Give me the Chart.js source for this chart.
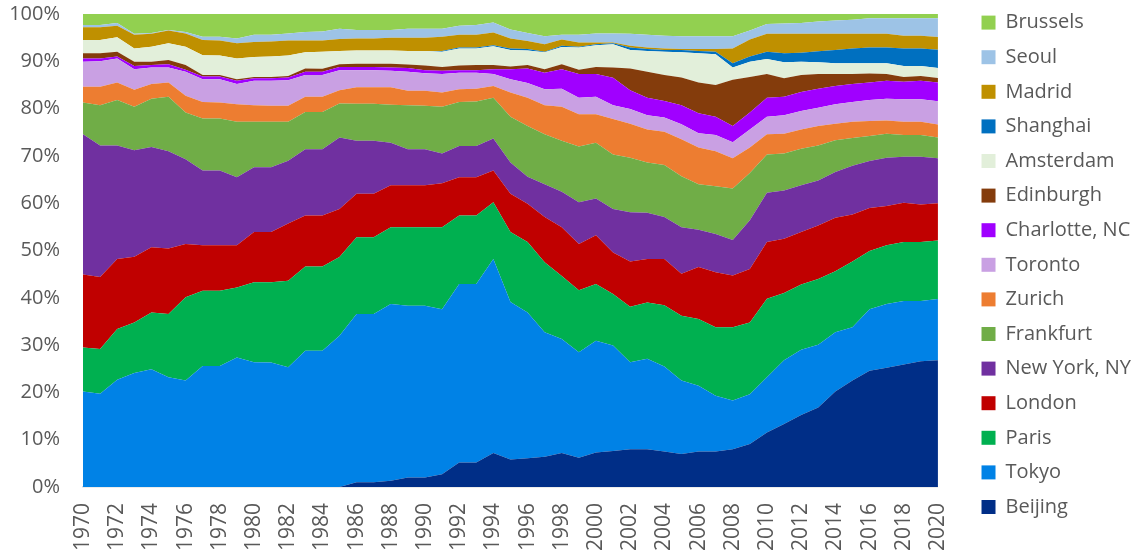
<!DOCTYPE html>
<html>
<head>
<meta charset="utf-8">
<title>City share 1970-2020</title>
<script src="https://cdn.jsdelivr.net/npm/chart.js@4.4.1/dist/chart.umd.min.js"></script>
<style>
  html, body { margin: 0; padding: 0; background: #ffffff; }
  #wrap { width: 1142px; height: 554px; }
</style>
</head>
<body>
<div id="wrap"><canvas id="cityChart" width="1142" height="554"></canvas></div>
<script>
// years on the x axis
const years = [
  "1970", "1971", "1972", "1973", "1974", "1975", "1976", "1977", "1978", "1979",
  "1980", "1981", "1982", "1983", "1984", "1985", "1986", "1987", "1988", "1989",
  "1990", "1991", "1992", "1993", "1994", "1995", "1996", "1997", "1998", "1999",
  "2000", "2001", "2002", "2003", "2004", "2005", "2006", "2007", "2008", "2009",
  "2010", "2011", "2012", "2013", "2014", "2015", "2016", "2017", "2018", "2019",
  "2020"
];

// share of each city per year (%)
const beijing = [
  0, 0, 0, 0, 0, 0, 0, 0, 0, 0,
  0, 0, 0, 0, 0, 0, 1.0, 1.0, 1.3, 2.0,
  2.0, 2.7, 5.2, 5.2, 7.2, 5.8, 6.1, 6.4, 7.2, 6.2,
  7.3, 7.6, 8.0, 8.0, 7.5, 7.0, 7.5, 7.5, 8.0, 9.1,
  11.5, 13.3, 15.2, 16.8, 20.2, 22.5, 24.6, 25.2, 25.9, 26.6,
  27.0
];
const tokyo = [
  20.2, 19.7, 22.7, 24.1, 24.9, 23.2, 22.5, 25.6, 25.6, 27.4,
  26.4, 26.3, 25.3, 28.8, 28.8, 32.0, 35.6, 35.6, 37.4, 36.3,
  36.3, 34.9, 37.7, 37.7, 41.0, 33.3, 30.8, 26.3, 24.1, 22.3,
  23.6, 22.3, 18.4, 19.1, 18.0, 15.5, 13.9, 11.8, 10.3, 10.5,
  11.7, 13.5, 13.8, 13.3, 12.5, 11.3, 13.0, 13.5, 13.4, 12.7,
  13.0
];
const paris = [
  9.3, 9.5, 10.7, 10.7, 12.0, 13.4, 17.6, 15.9, 15.9, 14.8,
  16.9, 17.0, 18.3, 17.8, 17.8, 16.6, 16.2, 16.2, 16.2, 16.6,
  16.6, 17.3, 14.5, 14.5, 12.0, 14.8, 14.9, 14.8, 13.3, 13.1,
  12.0, 10.9, 11.7, 11.9, 12.9, 13.7, 14.1, 14.5, 15.5, 15.2,
  16.6, 14.2, 13.8, 13.9, 12.9, 13.9, 12.3, 12.4, 12.5, 12.5,
  12.5
];
const london = [
  15.4, 15.2, 14.8, 13.9, 13.8, 13.8, 11.3, 9.6, 9.6, 8.9,
  10.6, 10.6, 12.1, 10.8, 10.8, 10.2, 9.2, 9.2, 8.9, 8.9,
  8.9, 9.3, 8.1, 8.1, 6.7, 8.1, 8.1, 9.6, 10.3, 9.8,
  10.3, 8.8, 9.6, 9.2, 9.8, 8.9, 11.0, 11.6, 10.9, 11.3,
  12.0, 11.5, 11.1, 11.3, 11.3, 9.9, 9.1, 8.3, 8.3, 7.9,
  7.9
];
const newYork = [
  29.7, 27.8, 24.0, 22.5, 21.2, 20.6, 17.9, 15.8, 15.8, 14.4,
  13.7, 13.7, 13.3, 14.0, 14.0, 15.1, 11.2, 11.2, 9.0, 7.6,
  7.6, 6.3, 6.6, 6.6, 6.8, 6.6, 5.7, 6.9, 7.5, 8.8,
  7.8, 9.2, 10.4, 9.8, 8.9, 9.8, 7.9, 8.1, 7.5, 10.3,
  10.4, 10.2, 9.9, 9.5, 9.7, 10.3, 9.9, 10.2, 9.7, 10.1,
  9.6
];
const frankfurt = [
  6.7, 8.5, 9.6, 9.2, 10.2, 11.5, 9.9, 11.0, 11.0, 11.7,
  9.6, 9.6, 8.2, 7.9, 7.9, 7.2, 7.8, 7.8, 8.0, 9.3,
  9.2, 9.9, 9.3, 9.4, 8.6, 9.7, 10.7, 10.6, 10.8, 11.8,
  11.8, 11.5, 11.5, 10.6, 11.0, 10.8, 9.6, 10.1, 10.9, 10.0,
  8.1, 7.8, 7.7, 7.4, 6.7, 5.9, 5.3, 5.1, 4.6, 4.6,
  4.4
];
const zurich = [
  3.3, 3.9, 3.7, 3.6, 3.1, 3.0, 3.5, 3.5, 3.4, 3.7,
  3.5, 3.4, 3.4, 3.2, 3.2, 2.8, 3.5, 3.5, 3.7, 3.1,
  3.2, 3.0, 2.7, 2.7, 2.5, 5.1, 6.0, 6.1, 7.2, 6.8,
  6.0, 7.5, 7.2, 7.0, 7.0, 7.8, 7.8, 7.4, 6.4, 5.4,
  4.3, 4.2, 4.1, 4.1, 3.5, 3.4, 3.2, 2.8, 2.8, 2.8,
  2.8
];
const toronto = [
  5.3, 5.4, 5.1, 4.3, 3.5, 3.2, 5.1, 4.8, 4.9, 4.3,
  5.2, 5.3, 5.4, 4.6, 4.6, 4.2, 3.6, 3.6, 3.5, 4.0,
  3.7, 3.9, 3.5, 3.4, 2.5, 2.8, 3.1, 3.4, 3.8, 3.5,
  3.7, 2.9, 3.1, 3.0, 3.0, 3.2, 3.0, 3.4, 3.4, 3.8,
  3.7, 3.9, 3.9, 3.9, 4.1, 4.2, 4.4, 4.6, 4.8, 4.8,
  4.9
];
const charlotte = [
  0.7, 0.6, 0.4, 0.7, 0.5, 0.7, 0.4, 0.6, 0.6, 0.7,
  0.5, 0.5, 0.6, 0.7, 0.7, 0.7, 0.7, 0.7, 0.7, 0.8,
  0.6, 0.7, 0.5, 0.5, 1.0, 2.1, 3.1, 3.5, 4.1, 5.0,
  4.8, 5.8, 4.0, 3.7, 3.5, 4.0, 4.2, 3.9, 3.4, 3.6,
  4.0, 3.9, 4.0, 4.0, 3.9, 3.8, 3.7, 3.8, 3.7, 3.9,
  4.0
];
const edinburgh = [
  1.1, 1.1, 1.0, 0.9, 0.7, 0.9, 1.0, 0.3, 0.3, 0.3,
  0.3, 0.3, 0.3, 0.7, 0.6, 0.6, 0.7, 0.7, 0.8, 0.7,
  1.0, 0.8, 1.0, 1.1, 0.9, 0.6, 0.7, 0.7, 1.1, 0.9,
  1.5, 2.2, 4.6, 5.5, 5.5, 5.9, 6.5, 6.7, 9.8, 7.5,
  5.0, 3.9, 3.6, 3.1, 2.5, 2.1, 1.9, 1.4, 1.0, 1.0,
  1.0
];
const amsterdam = [
  2.8, 2.8, 3.1, 2.8, 3.2, 3.5, 3.9, 4.2, 4.1, 4.4,
  4.2, 4.3, 4.3, 3.4, 3.6, 2.8, 2.8, 2.8, 2.8, 2.9,
  3.1, 3.2, 3.6, 3.5, 4.0, 3.5, 3.1, 3.6, 3.6, 4.7,
  4.6, 4.9, 3.9, 4.4, 4.9, 5.3, 6.2, 6.5, 2.6, 3.2,
  3.2, 3.4, 2.8, 2.5, 2.3, 2.3, 2.2, 2.3, 2.3, 2.1,
  2.1
];
const shanghai = [
  0, 0, 0, 0, 0, 0, 0, 0, 0, 0,
  0, 0, 0, 0, 0, 0, 0, 0, 0, 0,
  0, 0.2, 0.2, 0.2, 0.2, 0.3, 0.3, 0.1, 0.3, 0.2,
  0.2, 0.2, 0.5, 0.4, 0.4, 0.5, 0.5, 0.5, 0.9, 1.1,
  1.5, 1.9, 1.9, 2.3, 2.8, 3.1, 3.3, 3.3, 3.7, 3.7,
  3.9
];
const madrid = [
  2.7, 2.7, 2.4, 2.9, 2.7, 2.7, 2.8, 3.2, 3.2, 3.2,
  3.2, 3.2, 3.2, 2.5, 2.4, 2.5, 2.5, 2.5, 2.7, 2.8,
  2.8, 3.0, 2.7, 2.7, 2.7, 2.1, 1.7, 1.6, 1.3, 0.9,
  0.4, 0.2, 0.4, 0.3, 0.3, 0.2, 0.4, 0.6, 3.1, 3.6,
  3.8, 4.1, 4.0, 3.7, 3.4, 3.1, 2.9, 2.9, 2.7, 2.7,
  2.7
];
const seoul = [
  0.5, 0.5, 0.6, 0.2, 0.2, 0.1, 0.3, 0.7, 0.8, 1.0,
  1.5, 1.4, 1.5, 1.8, 1.9, 2.2, 1.8, 1.8, 1.6, 1.9,
  1.9, 1.7, 1.9, 2.1, 2.1, 1.9, 1.7, 1.7, 1.0, 1.6,
  1.9, 1.9, 2.5, 2.7, 2.7, 2.7, 2.7, 2.7, 2.6, 1.9,
  2.1, 2.2, 2.3, 2.6, 2.8, 3.0, 3.3, 3.3, 3.7, 3.7,
  4.0
];
const brussels = [
  2.3, 2.3, 1.9, 4.2, 4.0, 3.4, 3.8, 4.8, 4.8, 5.2,
  4.4, 4.4, 4.1, 3.8, 3.7, 3.1, 3.4, 3.4, 3.4, 3.1,
  3.1, 3.1, 2.5, 2.3, 1.8, 3.3, 4.0, 4.7, 4.4, 4.4,
  4.1, 4.1, 4.2, 4.4, 4.6, 4.7, 4.7, 4.7, 4.7, 3.5,
  2.1, 2.0, 1.9, 1.6, 1.4, 1.2, 0.9, 0.9, 0.9, 0.9,
  0.9
];

// 積み上げの下から順に（凡例は逆順で表示）
const series = [
  { label: "Beijing", data: beijing, color: "#002E87" },
  { label: "Tokyo", data: tokyo, color: "#0082E6" },
  { label: "Paris", data: paris, color: "#00B050" },
  { label: "London", data: london, color: "#C00000" },
  { label: "New York, NY", data: newYork, color: "#7030A0" },
  { label: "Frankfurt", data: frankfurt, color: "#70AD47" },
  { label: "Zurich", data: zurich, color: "#ED7D31" },
  { label: "Toronto", data: toronto, color: "#C9A0E3" },
  { label: "Charlotte, NC", data: charlotte, color: "#A000FF" },
  { label: "Edinburgh", data: edinburgh, color: "#843C0C" },
  { label: "Amsterdam", data: amsterdam, color: "#E2EFDA" },
  { label: "Shanghai", data: shanghai, color: "#0070C0" },
  { label: "Madrid", data: madrid, color: "#BF9000" },
  { label: "Seoul", data: seoul, color: "#9DC3E6" },
  { label: "Brussels", data: brussels, color: "#92D050" },
];

// 100%積み上げにするため年ごとの合計で割る
const totals = years.map((_, i) => series.reduce((sum, s) => sum + s.data[i], 0));

const datasets = series.map((s, k) => ({
  label: s.label,
  data: s.data.map((v, i) => (v / totals[i]) * 100),
  backgroundColor: s.color,
  borderColor: s.color,
  borderWidth: 0,
  pointRadius: 0,
  pointHoverRadius: 0,
  tension: 0,
  fill: k === 0 ? "origin" : "-1",
}));

const textGray = "#595959";
Chart.defaults.font.family = "'Open Sans', sans-serif";
Chart.defaults.color = textGray;

// 凡例の位置を元の図に合わせて少しずらす
const legendNudge = {
  id: "legendNudge",
  afterLayout(chart) {
    const lg = chart.legend;
    lg.left += 29;
    lg.right += 29;
    lg.top -= 2;
  },
};

const ctx = document.getElementById("cityChart").getContext("2d");
new Chart(ctx, {
  type: "line",
  data: { labels: years, datasets: datasets },
  options: {
    responsive: false,
    animation: false,
    layout: { padding: { left: 9, right: 30, top: 0, bottom: 0 } },
    interaction: { mode: "nearest", intersect: false },
    scales: {
      x: {
        offset: false,
        grid: { display: false, drawTicks: false },
        border: { display: true, color: "#D9D9D9", width: 1.5 },
        ticks: {
          autoSkip: false,
          maxRotation: 90,
          minRotation: 90,
          padding: 16,
          font: { size: 21 },
          callback: (val, idx) => (idx % 2 === 0 ? years[idx] : ""),
        },
        afterFit: (scale) => {
          scale.height = 67; // 下端のラベルは元図と同じく少しはみ出す
        },
      },
      y: {
        stacked: true,
        min: 0,
        max: 100,
        grid: { display: false, drawTicks: false },
        border: { display: false },
        ticks: {
          stepSize: 10,
          padding: 23,
          font: { size: 20 },
          callback: (v) => v + "%",
        },
        afterFit: (scale) => {
          scale.width = 74;
          scale.paddingTop = 14;
          scale.paddingBottom = 12;
        },
      },
    },
    plugins: {
      legend: {
        display: true,
        position: "right",
        align: "start",
        reverse: true,
        labels: {
          boxWidth: 14,
          boxHeight: 14,
          padding: 14.6,
          font: { size: 20 },
          color: textGray,
        },
      },
      tooltip: { enabled: false },
    },
  },
  plugins: [legendNudge],
});
</script>
</body>
</html>
